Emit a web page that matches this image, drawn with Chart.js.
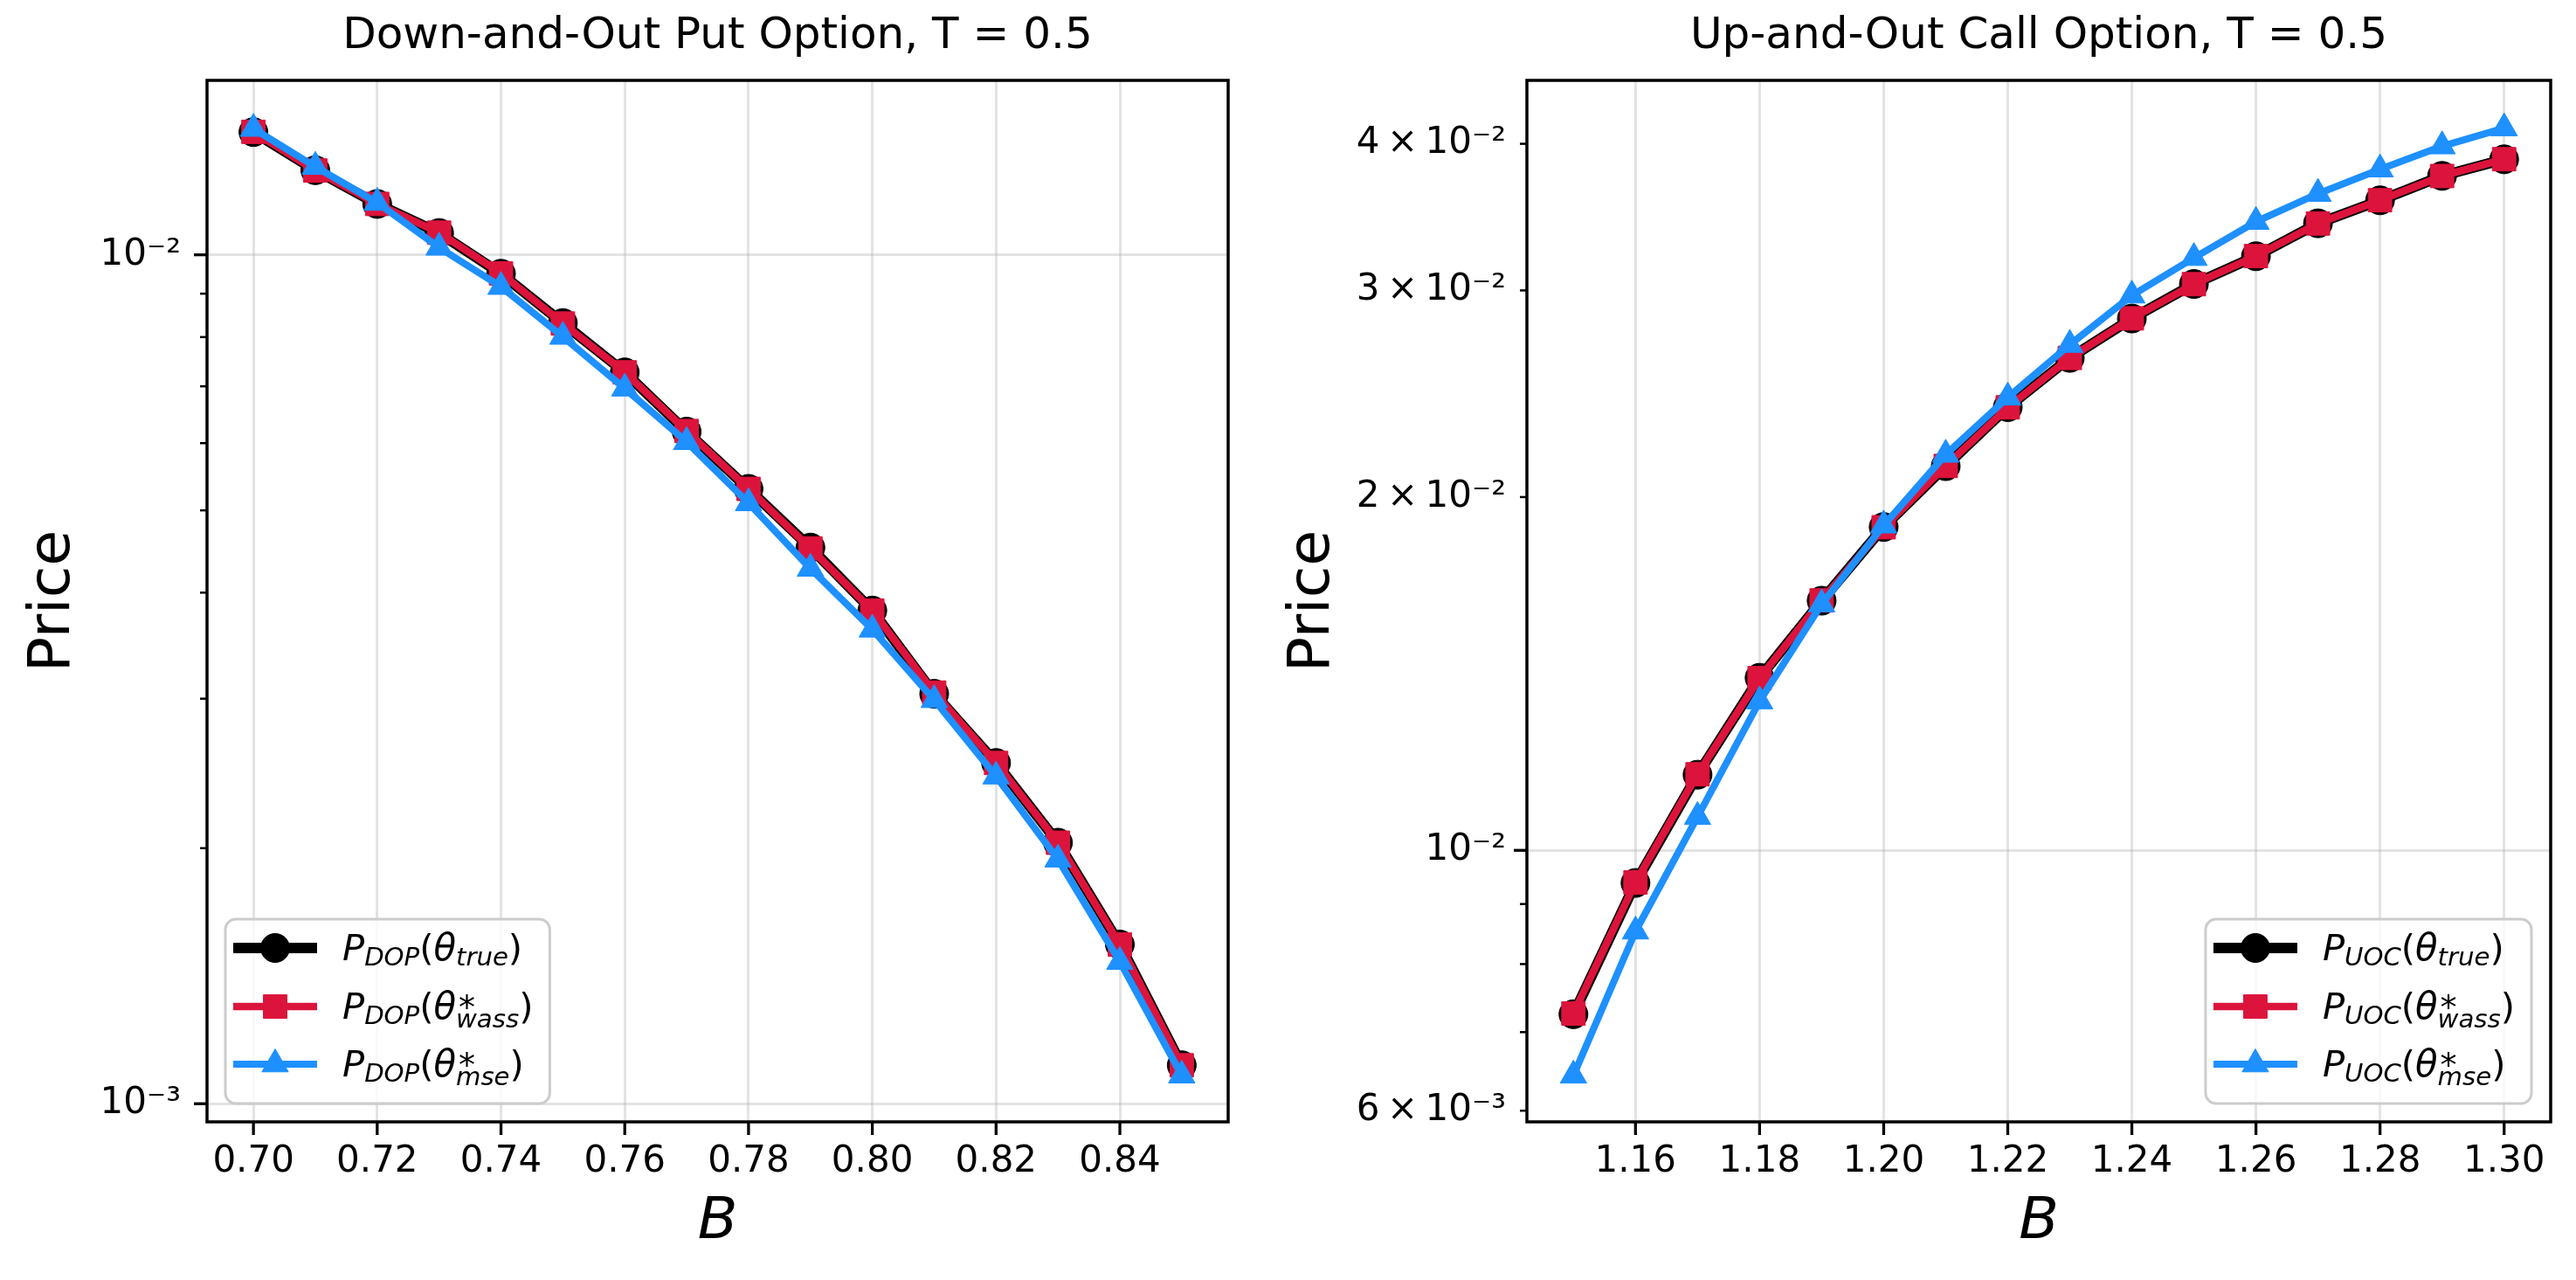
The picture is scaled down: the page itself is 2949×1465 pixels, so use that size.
<!DOCTYPE html>
<html>
<head>
<meta charset="utf-8">
<script src="https://cdn.jsdelivr.net/npm/chart.js@4.4.1/dist/chart.umd.min.js"></script>
<style>
    body { margin: 0; background: #ffffff; width: 2949px; height: 1465px; overflow: hidden; }
    canvas { position: absolute; top: 0; }
    #dopChart { left: 0; }
    #uocChart { left: 1440px; }
</style>
</head>
<body>
<canvas id="dopChart" width="1440" height="1465"></canvas>
<canvas id="uocChart" width="1509" height="1465"></canvas>
<script>
// ===============================
// DATA
// ===============================
const dopBarrier = [0.70, 0.71, 0.72, 0.73, 0.74, 0.75, 0.76, 0.77, 0.78, 0.79, 0.80, 0.81, 0.82, 0.83, 0.84, 0.85];
const dopTrue = [0.01395, 0.01258, 0.01148, 0.01061, 0.00950, 0.00831, 0.00727, 0.00619, 0.00530, 0.00452, 0.00381, 0.00304, 0.00252, 0.00203, 0.00154, 0.00111];
const dopWass = [0.01396, 0.01257, 0.01148, 0.01062, 0.00951, 0.00830, 0.00727, 0.00620, 0.00530, 0.00451, 0.00381, 0.00305, 0.00252, 0.00203, 0.00154, 0.00111];
const dopMse  = [0.01408, 0.01270, 0.01152, 0.01020, 0.00917, 0.00801, 0.00696, 0.00602, 0.00510, 0.00427, 0.00362, 0.00299, 0.00243, 0.00194, 0.00147, 0.00108];

const uocBarrier = [1.15, 1.16, 1.17, 1.18, 1.19, 1.20, 1.21, 1.22, 1.23, 1.24, 1.25, 1.26, 1.27, 1.28, 1.29, 1.30];
const uocTrue = [0.00725, 0.00938, 0.01160, 0.01403, 0.01632, 0.01886, 0.02125, 0.02386, 0.02628, 0.02839, 0.03038, 0.03208, 0.03422, 0.03580, 0.03756, 0.03880];
const uocWass = [0.00726, 0.00939, 0.01161, 0.01402, 0.01633, 0.01885, 0.02126, 0.02385, 0.02628, 0.02840, 0.03037, 0.03209, 0.03421, 0.03581, 0.03755, 0.03881];
const uocMse  = [0.00643, 0.00853, 0.01068, 0.01340, 0.01621, 0.01892, 0.02174, 0.02432, 0.02697, 0.02971, 0.03198, 0.03433, 0.03627, 0.03805, 0.03981, 0.04125];

const dopXTicks = [0.70, 0.72, 0.74, 0.76, 0.78, 0.80, 0.82, 0.84];
const uocXTicks = [1.16, 1.18, 1.20, 1.22, 1.24, 1.26, 1.28, 1.30];

const dopYTicks = [0.01, 0.001];
const dopYTickLabels = ["10⁻²", "10⁻³"];
const uocYTicks = [0.04, 0.03, 0.02, 0.01, 0.006];
const uocYTickLabels = ["4\u2009×\u200910⁻²", "3\u2009×\u200910⁻²", "2\u2009×\u200910⁻²", "10⁻²", "6\u2009×\u200910⁻³"];

const legendArgs = ["true", "wass", "mse"];

// ===============================
// STYLE
// ===============================
const FONT = "'DejaVu Sans', sans-serif";
const BLACK = "#000000";
const CRIMSON = "#DC143C";
const BLUE = "#1E90FF";
const GRID = "rgba(176,176,176,0.35)";
const MAIN = 41.7;   // 10pt at 300 dpi
const SUB = 29.2;

function isDecade(v) {
    const l = Math.log10(v);
    return Math.abs(l - Math.round(l)) < 1e-9;
}

function toPoints(xs, ys) {
    return xs.map((x, i) => ({ x: x, y: ys[i] }));
}

function fontStr(style, size) {
    return style + " " + size + "px " + FONT;
}

// ===============================
// MARKERS / LEGEND HELPERS
// ===============================
function drawMarker(ctx, style, r, x, y) {
    ctx.beginPath();
    if (style === "circle") {
        ctx.arc(x, y, r, 0, Math.PI * 2);
    } else if (style === "rect") {
        const s = Math.SQRT1_2 * r;
        ctx.rect(x - s, y - s, 2 * s, 2 * s);
    } else {
        ctx.moveTo(x, y - r);
        ctx.lineTo(x + Math.sin(2 * Math.PI / 3) * r, y - Math.cos(2 * Math.PI / 3) * r);
        ctx.lineTo(x + Math.sin(4 * Math.PI / 3) * r, y - Math.cos(4 * Math.PI / 3) * r);
        ctx.closePath();
    }
    ctx.fill();
    ctx.stroke();
}

// P_{sub}(θ_{arg}) or P_{sub}(θ*_{arg})
function drawMathLabel(ctx, x, base, sub, arg, draw) {
    let cx = x;
    const piece = (txt, style, size, dy) => {
        ctx.font = fontStr(style, size);
        if (draw) ctx.fillText(txt, cx, base + dy);
        const w = ctx.measureText(txt).width;
        cx += w;
        return w;
    };
    piece("P", "italic", MAIN, 0);
    piece(sub, "italic", SUB, 6);
    piece("(", "normal", MAIN, 0);
    piece("θ", "italic", MAIN, 0);
    if (arg === "true") {
        piece(arg, "italic", SUB, 6);
    } else {
        const startX = cx;
        ctx.font = fontStr("normal", 38);
        if (draw) ctx.fillText("*", startX + 3, base);
        const wStar = ctx.measureText("*").width + 3;
        const wSub = piece(arg, "italic", SUB, 10);
        cx = startX + Math.max(wStar, wSub);
    }
    piece(")", "normal", MAIN, 0);
    return cx - x;
}

function roundBox(ctx, x, y, w, h, r) {
    ctx.beginPath();
    ctx.moveTo(x + r, y);
    ctx.lineTo(x + w - r, y);
    ctx.arcTo(x + w, y, x + w, y + r, r);
    ctx.lineTo(x + w, y + h - r);
    ctx.arcTo(x + w, y + h, x + w - r, y + h, r);
    ctx.lineTo(x + r, y + h);
    ctx.arcTo(x, y + h, x, y + h - r, r);
    ctx.lineTo(x, y + r);
    ctx.arcTo(x, y, x + r, y, r);
    ctx.closePath();
}

// ===============================
// PLUGIN: frame, tick marks, legend
// ===============================
const axesDecor = {
    id: "axesDecor",
    afterDraw(chart, args, opts) {
        const ctx = chart.ctx;
        const area = chart.chartArea;
        const xs = chart.scales.x;
        const ys = chart.scales.y;

        ctx.save();

        // frame
        ctx.strokeStyle = BLACK;
        ctx.lineWidth = 3.5;
        ctx.strokeRect(area.left, area.top, area.right - area.left, area.bottom - area.top);

        // tick marks
        ctx.lineCap = "butt";
        xs.ticks.forEach(t => {
            const px = xs.getPixelForValue(t.value);
            ctx.lineWidth = 3.3;
            ctx.beginPath();
            ctx.moveTo(px, area.bottom);
            ctx.lineTo(px, area.bottom + 15);
            ctx.stroke();
        });
        ys.ticks.forEach(t => {
            const py = ys.getPixelForValue(t.value);
            const major = isDecade(t.value);
            ctx.lineWidth = major ? 3.3 : 2.5;
            ctx.beginPath();
            ctx.moveTo(area.left - (major ? 15 : 8), py);
            ctx.lineTo(area.left, py);
            ctx.stroke();
        });

        // legend
        const rows = [33, 100, 166];
        const boxH = 211;
        let textW = 0;
        legendArgs.forEach(a => {
            textW = Math.max(textW, drawMathLabel(ctx, 0, 0, opts.sub, a, false));
        });
        const boxW = 134 + textW + 19;
        const x0 = opts.corner === "left" ? area.left + 21 : area.right - 22 - boxW;
        const y0 = area.bottom - 21 - boxH;

        roundBox(ctx, x0, y0, boxW, boxH, 12);
        ctx.fillStyle = "rgba(255,255,255,0.8)";
        ctx.fill();
        ctx.strokeStyle = "#cccccc";
        ctx.lineWidth = 3;
        ctx.stroke();

        chart.data.datasets.forEach((ds, i) => {
            const cy = y0 + rows[i];
            ctx.strokeStyle = ds.borderColor;
            ctx.lineWidth = ds.borderWidth;
            ctx.beginPath();
            ctx.moveTo(x0 + 9, cy);
            ctx.lineTo(x0 + 105, cy);
            ctx.stroke();

            ctx.fillStyle = ds.pointBackgroundColor;
            ctx.strokeStyle = ds.pointBorderColor;
            ctx.lineWidth = ds.pointBorderWidth;
            drawMarker(ctx, ds.pointStyle, ds.pointRadius, x0 + 57, cy);

            ctx.fillStyle = BLACK;
            ctx.textBaseline = "alphabetic";
            ctx.textAlign = "left";
            drawMathLabel(ctx, x0 + 134, cy + 14, opts.sub, legendArgs[i], true);
        });

        ctx.restore();
    }
};

// ===============================
// CHART BUILDER
// ===============================
function makeDatasets(xs, trueVals, wassVals, mseVals) {
    return [
        {
            data: toPoints(xs, trueVals), order: 3,
            borderColor: BLACK, backgroundColor: BLACK, borderWidth: 12,
            pointStyle: "circle", pointRadius: 16.5, pointBorderWidth: 1,
            pointBackgroundColor: BLACK, pointBorderColor: BLACK
        },
        {
            data: toPoints(xs, wassVals), order: 2,
            borderColor: CRIMSON, backgroundColor: CRIMSON, borderWidth: 8.5,
            pointStyle: "rect", pointRadius: 19, pointBorderWidth: 1,
            pointBackgroundColor: CRIMSON, pointBorderColor: CRIMSON
        },
        {
            data: toPoints(xs, mseVals), order: 1,
            borderColor: BLUE, backgroundColor: BLUE, borderWidth: 8,
            pointStyle: "triangle", pointRadius: 17.5, pointBorderWidth: 1,
            pointBackgroundColor: BLUE, pointBorderColor: BLUE
        }
    ];
}

function buildChart(canvasId, cfg) {
    return new Chart(document.getElementById(canvasId), {
        type: "line",
        data: { datasets: makeDatasets(cfg.xs, cfg.trueVals, cfg.wassVals, cfg.mseVals) },
        options: {
            responsive: false,
            animation: false,
            devicePixelRatio: 1,
            elements: { line: { tension: 0, borderJoinStyle: "round", borderCapStyle: "round" } },
            layout: { padding: { left: 0, right: cfg.padRight, top: 0, bottom: 0 } },
            plugins: {
                legend: { display: false },
                tooltip: { enabled: false },
                title: {
                    display: true,
                    text: cfg.title,
                    fullSize: false,
                    color: BLACK,
                    font: { family: FONT, size: 50, weight: "normal" },
                    padding: { top: 12, bottom: 20 }
                },
                axesDecor: { sub: cfg.sub, corner: cfg.corner }
            },
            scales: {
                x: {
                    type: "linear",
                    min: cfg.xMin,
                    max: cfg.xMax,
                    afterFit: s => { s.height = 181; },
                    afterBuildTicks: s => { s.ticks = cfg.xTicks.map(v => ({ value: v })); },
                    ticks: {
                        autoSkip: false, maxRotation: 0, minRotation: 0, padding: 21,
                        color: BLACK, font: { family: FONT, size: 42 },
                        callback: v => Number(v).toFixed(2)
                    },
                    grid: { color: GRID, lineWidth: 3, drawTicks: false },
                    border: { display: false },
                    title: {
                        display: true, text: "B", color: BLACK,
                        font: { family: FONT, size: 66.7, style: "italic" },
                        padding: { top: 0, bottom: 25 }
                    }
                },
                y: {
                    type: "logarithmic",
                    min: cfg.yMin,
                    max: cfg.yMax,
                    afterFit: s => { s.width = cfg.yWidth; },
                    afterBuildTicks: s => {
                        const ticks = [];
                        for (let e = -4; e <= -1; e++) {
                            for (let m = 1; m <= 9; m++) {
                                const v = Number((m * Math.pow(10, e)).toPrecision(6));
                                if (v >= cfg.yMin && v <= cfg.yMax) ticks.push({ value: v });
                            }
                        }
                        s.ticks = ticks;
                    },
                    ticks: {
                        autoSkip: false, padding: cfg.yPad,
                        color: BLACK, font: { family: FONT, size: 42 },
                        callback: v => {
                            const i = cfg.yTicks.findIndex(t => Math.abs(t - v) / t < 1e-6);
                            return i >= 0 ? cfg.yTickLabels[i] : "";
                        }
                    },
                    grid: {
                        lineWidth: 3, drawTicks: false,
                        color: c => (c.tick && isDecade(c.tick.value)) ? GRID : "rgba(0,0,0,0)"
                    },
                    border: { display: false },
                    title: {
                        display: true, text: "Price", color: BLACK,
                        font: { family: FONT, size: 66.7 },
                        padding: { top: cfg.yTitlePad, bottom: 0 }
                    }
                }
            }
        },
        plugins: [axesDecor]
    });
}

// ===============================
// DRAW
// ===============================
buildChart("dopChart", {
    title: "Down-and-Out Put Option, T = 0.5",
    xs: dopBarrier, trueVals: dopTrue, wassVals: dopWass, mseVals: dopMse,
    xMin: 0.6925, xMax: 0.8575, xTicks: dopXTicks,
    yMin: 0.000952, yMax: 0.01605, yTicks: dopYTicks, yTickLabels: dopYTickLabels,
    yWidth: 237, yPad: 30, yTitlePad: 22, padRight: 34,
    sub: "DOP", corner: "left"
});

buildChart("uocChart", {
    title: "Up-and-Out Call Option, T = 0.5",
    xs: uocBarrier, trueVals: uocTrue, wassVals: uocWass, mseVals: uocMse,
    xMin: 1.1425, xMax: 1.3075, xTicks: uocXTicks,
    yMin: 0.00587, yMax: 0.0453, yTicks: uocYTicks, yTickLabels: uocYTickLabels,
    yWidth: 308, yPad: 24, yTitlePad: 24, padRight: 29,
    sub: "UOC", corner: "right"
});
</script>
</body>
</html>
